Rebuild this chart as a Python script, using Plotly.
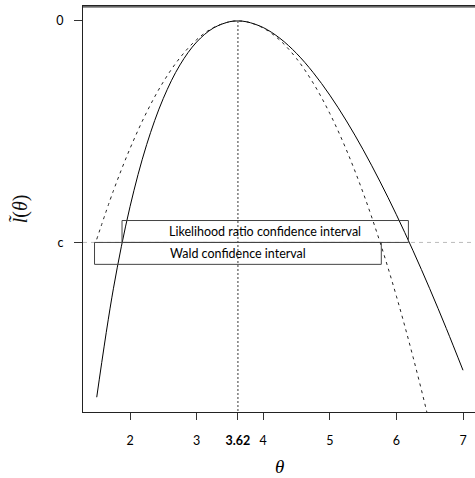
import plotly.graph_objects as go

# ---- data ----
theta = [1.5, 1.75, 2.0, 2.25, 2.5, 2.75, 3.0, 3.25, 3.5, 3.62, 3.75, 4.0, 4.25,
         4.5, 4.75, 5.0, 5.25, 5.5, 5.75, 6.0, 6.25, 6.5, 6.75, 7.0]
rel_loglik = [-3.262, -2.322, -1.610, -1.072, -0.671, -0.381, -0.183, -0.062, -0.006, 0.0,
              -0.007, -0.057, -0.150, -0.281, -0.447, -0.643, -0.867, -1.116, -1.388,
              -1.680, -1.992, -2.321, -2.667, -3.028]
quad_approx = [-1.893, -1.473, -1.106, -0.791, -0.528, -0.319, -0.162, -0.058, -0.006, 0.0,
               -0.007, -0.061, -0.167, -0.326, -0.538, -0.802, -1.119, -1.489, -1.911,
               -2.386, -2.914, -3.494, -4.127, -4.813]
mle = 3.62
c_level = -1.92
lr_ci = [1.88, 6.18]
wald_ci = [1.467, 5.773]
x_ticks = [2, 3, 3.62, 4, 5, 6, 7]
x_ticklabels = ["2", "3", "<b>3.62</b>", "4", "5", "6", "7"]
y_ticks = [0, c_level]
y_ticklabels = ["0", "c"]
labels = ["Likelihood ratio confidence interval", "Wald confidence interval"]

band = 0.19  # height of the interval boxes in y units
x_range = [1.294, 7.180]
y_range = [-3.390, 0.1297]

fig = go.Figure()
fig.add_trace(go.Scatter(x=theta, y=rel_loglik, mode="lines", line_shape="spline",
                         line=dict(color="black", width=1), showlegend=False))
fig.add_trace(go.Scatter(x=theta, y=quad_approx, mode="lines", line_shape="spline",
                         line=dict(color="#222222", width=1, dash="3px,4px"), showlegend=False))

shapes = []
# horizontal c line
shapes.append(dict(type="line", xref="paper", x0=0, x1=1, yref="y", y0=c_level, y1=c_level,
                   line=dict(color="#bbbbbb", width=1, dash="4px,4px")))
# vertical MLE line
shapes.append(dict(type="line", xref="x", x0=mle, x1=mle, yref="y", y0=0, y1=y_range[0],
                   line=dict(color="#666666", width=1.3, dash="2px,2px")))
# LR box
shapes.append(dict(type="rect", xref="x", yref="y", x0=lr_ci[0], x1=lr_ci[1],
                   y0=c_level, y1=c_level + band, line=dict(color="#444444", width=1)))
# Wald box
shapes.append(dict(type="rect", xref="x", yref="y", x0=wald_ci[0], x1=wald_ci[1],
                   y0=c_level - band, y1=c_level, line=dict(color="#444444", width=1)))
# top frame line
shapes.append(dict(type="line", xref="paper", yref="y", x0=0, x1=1, y0=y_range[1] - 0.008,
                   y1=y_range[1] - 0.008, line=dict(color="#333333", width=1.3)))

annotations = [
    dict(x=(lr_ci[0] + lr_ci[1]) / 2, y=c_level + band / 2, text=labels[0], showarrow=False,
         xref="x", yref="y", font=dict(family="Lato", size=12.5, color="black")),
    dict(x=(wald_ci[0] + wald_ci[1]) / 2, y=c_level - band / 2, text=labels[1], showarrow=False,
         xref="x", yref="y", font=dict(family="Lato", size=12.5, color="black")),
    dict(x=0.5, xref="paper", y=-0.135, yref="paper", yanchor="middle", text="<i>θ</i>",
         showarrow=False, font=dict(family="Liberation Serif", size=19, color="black")),
    dict(x=-0.16, xref="paper", y=0.5, yref="paper", xanchor="center", yanchor="middle",
         text="<i>l̃</i>(<i>θ</i>)", textangle=-90, showarrow=False,
         font=dict(family="Liberation Serif", size=20, color="#111111")),
]

fig.update_layout(
    width=475, height=478,
    margin=dict(l=83, r=0, t=6, b=66),
    paper_bgcolor="white", plot_bgcolor="white",
    shapes=shapes, annotations=annotations,
    xaxis=dict(range=x_range, tickvals=x_ticks, ticktext=x_ticklabels, showgrid=False,
               zeroline=False, showline=True, mirror=True, linecolor="#222222", linewidth=1,
               ticks="outside", ticklen=7, tickcolor="#333333",
               ticklabelstandoff=10, tickfont=dict(family="Lato", size=12.5, color="black")),
    yaxis=dict(range=y_range, tickvals=y_ticks, ticktext=y_ticklabels, showgrid=False,
               zeroline=False, showline=True, mirror=False, linecolor="#222222", linewidth=1,
               ticks="outside", ticklen=8, tickcolor="#333333",
               ticklabelstandoff=8, tickfont=dict(family="Lato", size=12.5, color="black")),
)

fig.write_html("out.html")
